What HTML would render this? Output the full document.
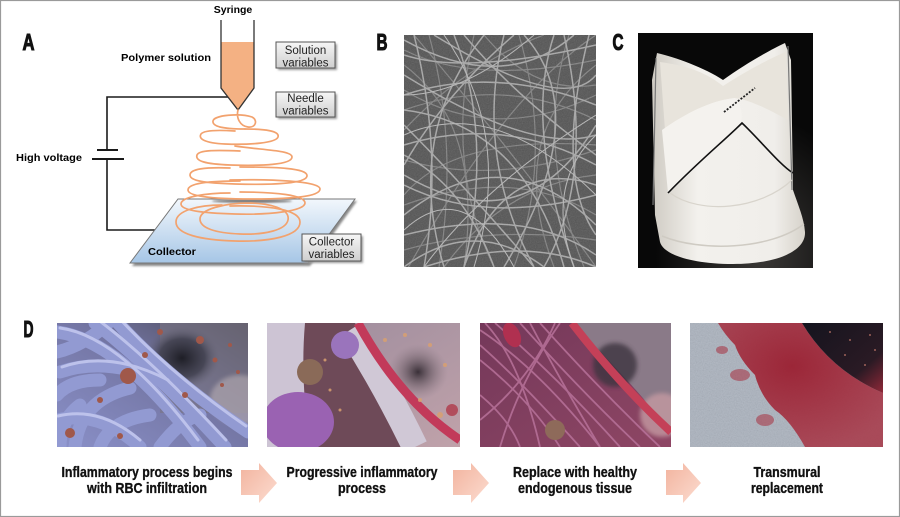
<!DOCTYPE html>
<html><head><meta charset="utf-8"><style>
html,body{margin:0;padding:0;background:#fff;}
svg{display:block;}
text{font-family:"Liberation Sans",Arial,sans-serif;}
.nb{font-family:"Liberation Sans Narrow","Liberation Sans",Arial,sans-serif;font-weight:bold;}
</style></head><body>
<svg width="900" height="517" viewBox="0 0 900 517" xmlns="http://www.w3.org/2000/svg">
<defs>
  <linearGradient id="box" x1="0" y1="0" x2="0" y2="1"><stop offset="0" stop-color="#f6f6f6"/><stop offset="1" stop-color="#cfcfcf"/></linearGradient>
  <linearGradient id="coll" x1="0" y1="0" x2="0" y2="1"><stop offset="0" stop-color="#f2f7fc"/><stop offset="1" stop-color="#a6c6e6"/></linearGradient>
  <linearGradient id="arr" x1="0" y1="0" x2="1" y2="1"><stop offset="0" stop-color="#f2b39e"/><stop offset="1" stop-color="#fcdcd0"/></linearGradient>
  <linearGradient id="valve" x1="0" y1="0" x2="1" y2="0"><stop offset="0" stop-color="#cfcbc3"/><stop offset="0.3" stop-color="#f3f1ed"/><stop offset="0.8" stop-color="#f0eeea"/><stop offset="1" stop-color="#d6d2ca"/></linearGradient>
  <radialGradient id="cbg" cx="0.7" cy="0.95" r="0.6"><stop offset="0" stop-color="#3a3836"/><stop offset="1" stop-color="#080808"/></radialGradient>
  <radialGradient id="dark1" cx="0.5" cy="0.5" r="0.5"><stop offset="0" stop-color="#1e1e26"/><stop offset="0.6" stop-color="#3c3c4a" stop-opacity="0.8"/><stop offset="1" stop-color="#6a6878" stop-opacity="0"/></radialGradient>
  <radialGradient id="dark2" cx="0.5" cy="0.5" r="0.5"><stop offset="0" stop-color="#3a3038"/><stop offset="1" stop-color="#8a7a84" stop-opacity="0"/></radialGradient>
  <linearGradient id="bg1" x1="0" y1="1" x2="1" y2="0"><stop offset="0" stop-color="#8a90c8"/><stop offset="0.55" stop-color="#7476a4"/><stop offset="1" stop-color="#4a4856"/></linearGradient>
  <linearGradient id="bg2" x1="0" y1="0" x2="1" y2="1"><stop offset="0" stop-color="#9a8a9c"/><stop offset="1" stop-color="#c0a2aa"/></linearGradient>
  <linearGradient id="bg3" x1="0" y1="0" x2="1" y2="1"><stop offset="0" stop-color="#74385a"/><stop offset="1" stop-color="#8e4664"/></linearGradient>
  <radialGradient id="red4" cx="0.45" cy="0.35" r="0.7"><stop offset="0" stop-color="#9a1a2c"/><stop offset="1" stop-color="#a83444" stop-opacity="0.9"/></radialGradient>
  <linearGradient id="dk4" x1="0" y1="0" x2="1" y2="1"><stop offset="0" stop-color="#14141e"/><stop offset="0.7" stop-color="#2a1a24"/><stop offset="1" stop-color="#902838"/></linearGradient>
  <filter id="noise" x="0" y="0" width="1" height="1"><feTurbulence type="fractalNoise" baseFrequency="0.85" numOctaves="1" seed="4"/><feColorMatrix type="saturate" values="0"/><feComponentTransfer><feFuncA type="table" tableValues="0.15 0.45"/></feComponentTransfer></filter>
  <filter id="blur2"><feGaussianBlur stdDeviation="2"/></filter>
  <filter id="blur1"><feGaussianBlur stdDeviation="1"/></filter>
  <clipPath id="cB"><rect x="404" y="35" width="192" height="232"/></clipPath>
  <clipPath id="cC"><rect x="638" y="33" width="175" height="235"/></clipPath>
  <clipPath id="c1"><rect x="57" y="323" width="191" height="124"/></clipPath>
  <clipPath id="c2"><rect x="267" y="323" width="193" height="124"/></clipPath>
  <clipPath id="c3"><rect x="480" y="323" width="191" height="124"/></clipPath>
  <clipPath id="c4"><rect x="690" y="323" width="193" height="124"/></clipPath>
</defs>

<rect x="0.5" y="0.5" width="899" height="516" fill="#fff" stroke="#9a9a9a" stroke-width="1.2"/>

<!-- Panel labels -->
<g fill="#111" stroke="#111" stroke-width="1.1">
<text class="nb" x="22.5" y="50" font-size="23" textLength="12" lengthAdjust="spacingAndGlyphs">A</text>
<text class="nb" x="376.5" y="50" font-size="23" textLength="11" lengthAdjust="spacingAndGlyphs">B</text>
<text class="nb" x="612.5" y="50" font-size="23" textLength="11" lengthAdjust="spacingAndGlyphs">C</text>
<text class="nb" x="23.5" y="337" font-size="23" textLength="10" lengthAdjust="spacingAndGlyphs">D</text>
</g>

<!-- Panel A -->
<text x="233" y="13" font-size="10.5" font-weight="bold" text-anchor="middle">Syringe</text>
<text x="121" y="61" font-size="10.5" font-weight="bold" textLength="90" lengthAdjust="spacingAndGlyphs">Polymer solution</text>
<text x="16" y="161" font-size="10.5" font-weight="bold" textLength="66" lengthAdjust="spacingAndGlyphs">High voltage</text>

<!-- circuit -->
<path d="M228,97 H107 V150 M107,159 V230 H155" fill="none" stroke="#1a1a1a" stroke-width="1.6"/>
<line x1="97" y1="150" x2="118" y2="150" stroke="#1a1a1a" stroke-width="2"/>
<line x1="92" y1="159" x2="124" y2="159" stroke="#1a1a1a" stroke-width="2"/>

<!-- syringe -->
<path d="M221,42 H254 V88 L238,110 L221,88 Z" fill="#f4b183"/>
<path d="M221,20 V88 L238,110 L254,88 V20" fill="none" stroke="#333" stroke-width="1.3"/>

<!-- boxes -->
<g>
  <rect x="278" y="44" width="59" height="26" fill="#999" filter="url(#blur1)"/>
  <rect x="276" y="42" width="59" height="26" fill="url(#box)" stroke="#555" stroke-width="1"/>
  <text x="305.5" y="54" font-size="11.5" text-anchor="middle" fill="#222">Solution</text>
  <text x="305.5" y="66.5" font-size="11.5" text-anchor="middle" fill="#222">variables</text>
  <rect x="278" y="94" width="59" height="25" fill="#999" filter="url(#blur1)"/>
  <rect x="276" y="92" width="59" height="25" fill="url(#box)" stroke="#555" stroke-width="1"/>
  <text x="305.5" y="102" font-size="11.5" text-anchor="middle" fill="#222">Needle</text>
  <text x="305.5" y="114.5" font-size="11.5" text-anchor="middle" fill="#222">variables</text>
</g>

<!-- collector -->
<polygon points="180,201 357,201 310,266 132,266" fill="#888" filter="url(#blur1)"/>
<polygon points="178,199 355,199 308,263 130,263" fill="url(#coll)" stroke="#777" stroke-width="1"/>
<ellipse cx="252" cy="201" rx="40" ry="2" fill="#777" filter="url(#blur1)"/>
<text x="148" y="255" font-size="10.5" font-weight="bold" textLength="48" lengthAdjust="spacingAndGlyphs">Collector</text>
<rect x="304" y="236" width="59" height="27" fill="#999" filter="url(#blur1)"/>
<rect x="302" y="234" width="59" height="27" fill="url(#box)" stroke="#555" stroke-width="1"/>
<text x="331.5" y="245.5" font-size="11.5" text-anchor="middle" fill="#222">Collector</text>
<text x="331.5" y="258" font-size="11.5" text-anchor="middle" fill="#222">variables</text>

<!-- spiral -->
<g fill="none" stroke="#f2a26e" stroke-width="1.7" stroke-linecap="round">
  <path d="M238,110 C236,118 240,126 248,127 C256,128 258,120 252,117 C240,113 214,115 213,121 C212,127 225,129 245,129"/>
  <path d="M245,129 C265,129 280,131 278,137 C276,143 250,145 225,144 C205,143 198,139 201,134 C204,130 220,130 235,131"/>
  <path d="M235,146 C260,150 292,150 292,157 C292,165 260,166 230,165 C205,164 195,161 197,155 C199,150 215,150 240,151"/>
  <path d="M240,167 C275,167 308,168 307,176 C306,184 270,185 235,184 C205,183 190,181 190,175 C190,169 205,167 230,168"/>
  <path d="M230,180 C270,179 320,181 320,189 C320,197 290,199 250,199 C210,199 188,196 188,190 C188,183 210,181 240,181"/>
  <path d="M240,192 C275,192 305,195 305,203 C305,211 270,215 235,214 C200,213 181,210 181,204 C181,197 205,193 230,193"/>
  <path d="M230,206 C270,205 300,210 300,222 C300,236 270,242 235,241 C200,240 176,234 176,222 C176,210 200,205 222,205"/>
  <path d="M250,203 C275,204 290,210 288,220 C286,230 265,235 240,234 C215,233 200,228 200,219 C200,209 225,203 250,203"/>
</g>

<!-- Panel B SEM -->
<g clip-path="url(#cB)">
  <rect x="404" y="35" width="192" height="232" fill="#4e4e4e"/>
  <g transform="translate(404,35)" fill="none">
    <g stroke="#7e7e7e" stroke-width="1.2">
      <path d="M0,15 Q70,50 192,25"/><path d="M0,75 Q100,40 192,85"/><path d="M25,0 Q55,110 35,232"/>
      <path d="M70,0 Q40,130 90,232"/><path d="M115,0 Q150,120 110,232"/><path d="M165,0 Q130,110 180,232"/>
      <path d="M0,125 Q90,150 192,115"/><path d="M0,170 Q110,130 192,180"/><path d="M0,215 Q90,190 192,205"/>
      <path d="M0,55 Q90,110 192,60"/><path d="M40,232 Q100,150 192,140"/><path d="M0,95 Q60,30 140,0"/>
      <path d="M0,30 Q80,90 60,232"/><path d="M192,30 Q100,100 150,232"/><path d="M0,240 Q100,60 192,0"/>
      <path d="M10,0 Q120,130 192,232"/><path d="M0,160 Q50,100 192,110"/><path d="M80,0 Q130,60 192,50"/>
    </g>
    <g stroke="#a6a6a6" stroke-width="1.5">
      <path d="M0,20 Q60,40 192,10"/><path d="M0,60 Q90,30 192,70"/><path d="M10,0 Q40,120 20,232"/>
      <path d="M50,0 Q90,100 60,232"/><path d="M100,0 Q70,120 130,232"/><path d="M150,0 Q120,90 170,232"/>
      <path d="M185,0 Q150,140 192,200"/><path d="M0,110 Q100,80 192,130"/><path d="M0,150 Q80,190 192,160"/>
      <path d="M0,200 Q120,170 192,220"/><path d="M0,232 Q70,180 140,232"/><path d="M30,0 Q160,80 192,40"/>
      <path d="M0,90 Q60,150 130,232"/><path d="M80,0 Q0,100 40,232"/><path d="M120,0 Q192,80 100,232"/>
      <path d="M0,40 Q130,120 192,100"/><path d="M0,180 Q100,100 192,190"/><path d="M60,232 Q100,120 192,150"/>
      <path d="M0,130 Q40,60 110,0"/><path d="M140,232 Q192,140 160,0"/><path d="M0,5 Q100,60 170,0"/>
      <path d="M20,232 Q120,200 192,232"/><path d="M0,140 Q120,210 192,90"/><path d="M90,232 Q60,150 0,120"/>
      <path d="M192,120 Q110,60 60,0"/><path d="M0,75 Q120,90 160,232"/>
    </g>
    <g stroke="#b8b8b8" stroke-width="1">
      <path d="M0,100 Q90,60 192,160"/><path d="M40,0 Q110,100 70,232"/><path d="M192,80 Q80,150 20,232"/>
      <path d="M130,0 Q60,60 0,60"/><path d="M0,195 Q60,140 110,232"/><path d="M170,232 Q140,150 192,100"/>
    </g>
  </g>
  <rect x="404" y="35" width="192" height="232" filter="url(#noise)" opacity="0.5"/>
</g>

<!-- Panel C valve -->
<g clip-path="url(#cC)">
  <rect x="638" y="33" width="175" height="235" fill="url(#cbg)"/>
  <path d="M657,53 C675,57 705,68 723,80 C745,64 770,50 785,43 L791,60 L793,190 C798,205 804,218 805,232 C806,252 775,264 733,264 C690,264 663,254 660,242 L655,215 L652,80 Z" fill="url(#valve)"/>
  <path d="M660,62 C690,66 708,74 723,86 C745,72 770,58 786,52 L788,120 C770,110 750,100 735,98 C715,100 690,110 665,130 Z" fill="#e8e4dc"/>
  <path d="M662,130 C690,110 715,100 735,98 C745,110 740,118 742,123 C725,140 700,165 668,193 Z" fill="#f4f2ee"/>
  <path d="M668,193 C700,160 725,140 742,123 C760,140 780,165 793,173" fill="none" stroke="#111" stroke-width="1.6"/>
  <path d="M724,112 L755,88" stroke="#222" stroke-width="1.8" stroke-dasharray="2,1.5"/>
  <path d="M656,58 L653,205" stroke="#777" stroke-width="1.2"/>
  <path d="M788,46 L792,190" stroke="#777" stroke-width="1.2"/>
  <path d="M662,236 C700,252 770,250 804,224" fill="none" stroke="#cfcbc3" stroke-width="1.5"/>
  <path d="M670,193 C700,215 760,210 792,180" fill="none" stroke="#d8d4cc" stroke-width="1.2"/>
</g>

<!-- Panel D image 1 -->
<g clip-path="url(#c1)">
  <rect x="57" y="323" width="191" height="124" fill="url(#bg1)"/>
  <rect x="160" y="323" width="88" height="90" fill="#7a7482" opacity="0.6"/>
  <ellipse cx="182" cy="358" rx="38" ry="32" fill="url(#dark1)"/>
  <ellipse cx="240" cy="400" rx="30" ry="25" fill="#b8aeb4" opacity="0.6" filter="url(#blur2)"/>
  <g fill="none" stroke-linecap="round">
    <g stroke="#929ad2" stroke-width="13">
      <path d="M57,332 Q120,340 200,447"/><path d="M60,372 Q110,355 170,385"/><path d="M75,447 Q80,400 130,388"/>
      <path d="M57,420 Q100,410 140,447"/><path d="M118,323 Q170,380 248,432"/><path d="M95,323 Q150,365 225,447"/>
      <path d="M57,352 Q85,345 108,323"/><path d="M57,395 Q70,380 100,380"/><path d="M160,447 Q180,420 200,415"/>
      <path d="M60,447 Q60,420 80,405"/><path d="M100,447 Q110,420 150,415"/>
    </g>
    <g stroke="#c8ccf2" stroke-width="3" opacity="0.8">
      <path d="M60,328 Q120,336 198,440"/><path d="M62,367 Q110,350 168,380"/><path d="M120,319 Q172,375 246,426"/>
      <path d="M97,319 Q152,360 226,440"/><path d="M58,416 Q100,406 140,440"/>
    </g>
  </g>
  <g fill="#a0584a">
    <circle cx="128" cy="376" r="8"/><circle cx="200" cy="340" r="4"/><circle cx="215" cy="360" r="2.5"/>
    <circle cx="230" cy="345" r="2"/><circle cx="160" cy="332" r="3"/><circle cx="185" cy="395" r="3"/>
    <circle cx="120" cy="436" r="3"/><circle cx="70" cy="433" r="5"/><circle cx="222" cy="385" r="2"/>
    <circle cx="145" cy="355" r="3"/><circle cx="238" cy="372" r="2"/><circle cx="100" cy="400" r="3"/>
  </g>
</g>

<!-- Panel D image 2 -->
<g clip-path="url(#c2)">
  <rect x="267" y="323" width="193" height="124" fill="url(#bg2)"/>
  <ellipse cx="418" cy="372" rx="30" ry="28" fill="url(#dark2)"/>
  <path d="M300,323 H355 L405,447 H300 Z" fill="#6e4a58"/>
  <path d="M267,323 H305 Q300,380 310,447 H267 Z" fill="#cdc4d4"/>
  <path d="M350,330 Q385,385 415,447" fill="none" stroke="#d0c8d6" stroke-width="26"/>
  <path d="M358,323 Q400,400 460,440" fill="none" stroke="#c23a5a" stroke-width="9"/>
  <ellipse cx="298" cy="422" rx="36" ry="30" fill="#9a62b2"/>
  <ellipse cx="345" cy="345" rx="14" ry="14" fill="#9a74bc"/>
  <ellipse cx="310" cy="372" rx="13" ry="13" fill="#8a6a58"/>
  <g fill="#d9a070" opacity="0.85">
    <circle cx="385" cy="340" r="2"/><circle cx="405" cy="335" r="2"/><circle cx="430" cy="345" r="2"/>
    <circle cx="445" cy="365" r="2"/><circle cx="420" cy="400" r="2"/><circle cx="440" cy="415" r="3"/>
    <circle cx="330" cy="390" r="1.5"/><circle cx="340" cy="410" r="1.5"/><circle cx="325" cy="360" r="1.5"/>
    <circle cx="452" cy="410" r="6" fill="#b04050"/>
  </g>
</g>

<!-- Panel D image 3 -->
<g clip-path="url(#c3)">
  <rect x="480" y="323" width="191" height="124" fill="url(#bg3)"/>
  <path d="M572,323 H671 V432 Q630,380 572,323 Z" fill="#8a7a88"/>
  <ellipse cx="615" cy="365" rx="22" ry="22" fill="#3c3440" opacity="0.8" filter="url(#blur2)"/>
  <ellipse cx="662" cy="415" rx="22" ry="22" fill="#c49aa2" opacity="0.8" filter="url(#blur2)"/>
  <g fill="none" stroke="#b8729a" stroke-width="1.8" opacity="0.85">
    <path d="M480,330 Q540,370 600,447"/><path d="M495,323 Q560,380 620,447"/><path d="M520,323 Q580,390 640,447"/>
    <path d="M480,360 Q530,400 560,447"/><path d="M540,323 Q600,390 660,447"/><path d="M480,395 Q510,420 520,447"/>
    <path d="M500,447 Q520,380 560,323"/><path d="M480,345 Q520,380 580,447"/><path d="M485,323 Q520,360 540,447"/>
    <path d="M530,323 Q560,380 600,447"/><path d="M480,420 Q530,380 555,323"/>
  </g>
  <path d="M572,323 Q620,385 671,432" fill="none" stroke="#c44058" stroke-width="8"/>
  <ellipse cx="512" cy="335" rx="8" ry="13" fill="#b03050" transform="rotate(-25 512 335)"/>
  <ellipse cx="555" cy="430" rx="10" ry="10" fill="#8e6a5a"/>
</g>

<!-- Panel D image 4 -->
<g clip-path="url(#c4)">
  <rect x="690" y="323" width="193" height="124" fill="#a9b1bd"/>
  <rect x="690" y="323" width="193" height="124" filter="url(#noise)" opacity="0.55"/>
  <path d="M718,323 H802 Q830,370 883,393 V447 H805 Q790,420 775,410 Q760,395 755,375 Q740,360 735,345 Q725,335 718,323 Z" fill="url(#red4)" opacity="0.92"/>
  <g fill="#a83a4a" opacity="0.6">
    <ellipse cx="740" cy="375" rx="10" ry="6"/><ellipse cx="722" cy="350" rx="6" ry="4"/><ellipse cx="765" cy="420" rx="9" ry="6"/>
  </g>
  <path d="M802,323 Q830,370 883,393 V323 Z" fill="url(#dk4)"/>
  <g fill="#d08070" opacity="0.7">
    <circle cx="830" cy="332" r="1"/><circle cx="850" cy="340" r="1"/><circle cx="870" cy="335" r="1"/>
    <circle cx="845" cy="355" r="1"/><circle cx="865" cy="365" r="1"/><circle cx="875" cy="350" r="1"/>
  </g>
</g>

<!-- arrows -->
<polygon points="241,470 259,470 259,463 277,483 259,503 259,495 241,495" fill="url(#arr)"/>
<polygon points="453,470 471,470 471,463 489,483 471,503 471,495 453,495" fill="url(#arr)"/>
<polygon points="666,470 683,470 683,463 701,483 683,503 683,495 666,495" fill="url(#arr)"/>

<!-- labels -->
<g font-size="15" text-anchor="middle" fill="#111" stroke="#111" stroke-width="0.35">
  <text class="nb" x="147" y="477" textLength="171" lengthAdjust="spacingAndGlyphs">Inflammatory process begins</text>
  <text class="nb" x="147" y="493" textLength="120" lengthAdjust="spacingAndGlyphs">with RBC infiltration</text>
  <text class="nb" x="362" y="477" textLength="151" lengthAdjust="spacingAndGlyphs">Progressive inflammatory</text>
  <text class="nb" x="362" y="493" textLength="48" lengthAdjust="spacingAndGlyphs">process</text>
  <text class="nb" x="575" y="477" textLength="124" lengthAdjust="spacingAndGlyphs">Replace with healthy</text>
  <text class="nb" x="575" y="493" textLength="114" lengthAdjust="spacingAndGlyphs">endogenous tissue</text>
  <text class="nb" x="787" y="477" textLength="67" lengthAdjust="spacingAndGlyphs">Transmural</text>
  <text class="nb" x="787" y="493" textLength="72" lengthAdjust="spacingAndGlyphs">replacement</text>
</g>
</svg>
</body></html>
